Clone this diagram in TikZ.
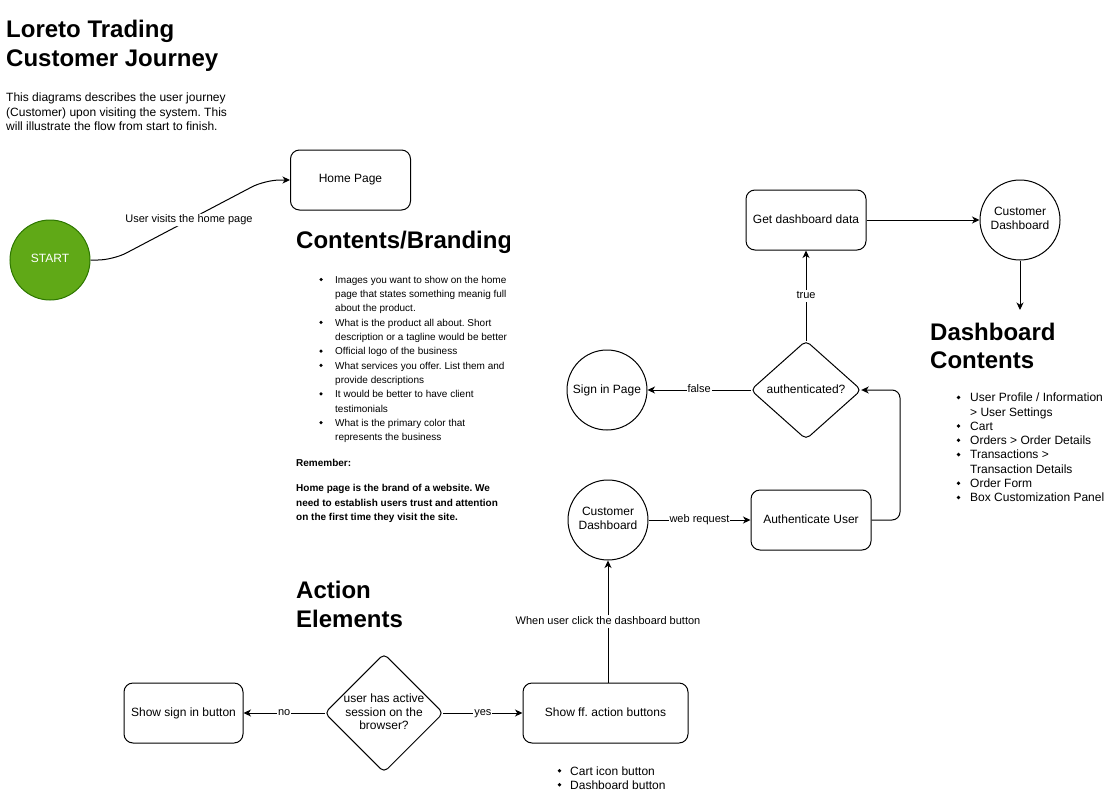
\documentclass[tikz,border=0pt]{standalone}
\usepackage{fontspec}
\setmainfont{Liberation Sans}
\usetikzlibrary{arrows.meta,shapes.geometric,calc}
\frenchspacing
\definecolor{startfill}{HTML}{60A917}
\definecolor{startline}{HTML}{2D7600}
\newcommand{\fsHd}{\fontsize{24}{29}\selectfont\bfseries}
\newcommand{\fsTw}{\fontsize{12}{14}\selectfont}
\newcommand{\fsEl}{\fontsize{11}{13}\selectfont}
\newcommand{\fsTe}{\fontsize{10}{12}\selectfont}
\newcommand{\stTw}{\rule[-2.54pt]{0pt}{10.86pt}}
\newcommand{\stEl}{\rule[-2.33pt]{0pt}{9.96pt}}
\tikzset{
  box/.style={draw, line width=1pt, rounded corners=9pt, minimum width=120pt, minimum height=60pt, font=\fsTw, align=center, inner sep=2pt, execute at begin node=\stTw, execute at end node=\stTw},
  circ/.style={draw, line width=1pt, circle, minimum size=80pt, inner sep=0pt, font=\fsTw, align=center, execute at begin node=\stTw, execute at end node=\stTw},
  dia/.style={rectangle, inner sep=0pt, font=\fsTw, align=center, execute at begin node=\stTw, execute at end node=\stTw},
  diaedge/.style={draw, line width=1pt, rounded corners=5pt},
  lbl/.style={fill=white, inner sep=1pt, font=\fsEl, execute at begin node=\stEl},
  arr/.style={line width=1pt, -{Stealth[length=7.5pt,width=7pt,inset=2.2pt]}},
  txt/.style={anchor=base west, inner sep=0pt},
  bul/.style={fill=black}
}
\begin{document}
\begin{tikzpicture}[x=1pt,y=-1pt]
\useasboundingbox (0,0) rectangle (1116,811);

% title and description
\node[txt, font=\fsHd] (t1) at (6,37) {Loreto Trading};
\node[txt, font=\fsHd] (t2) at (6,66) {Customer Journey};
\node[txt, font=\fsTw] (d1) at (6,101.5) {This diagrams describes the user journey};
\node[txt, font=\fsTw] (d2) at (6,116) {(Customer) upon visiting the system. This};
\node[txt, font=\fsTw] (d3) at (6,130.5) {will illustrate the flow from start to finish.};

% start and home page
\node[circ, fill=startfill, draw=startline, text=white] (start) at (50,260) {START};
\node[box] (home) at (350.5,180) {Home Page};
\draw[arr, rounded corners=15pt] (start.east) -- (113,260) -- node[lbl]{User visits the home page} (265,180) -- (home.west);

% Contents / Branding
\begin{scope}
\clip (290,220) rectangle (509,260);
\node[txt, font=\fsHd] (cbh) at (296,248) {Contents/Branding};
\end{scope}
\foreach \t [count=\i from 0] in {
  {Images you want to show on the home},
  {page that states something meanig full},
  {about the product.},
  {What is the product all about. Short},
  {description or a tagline would be better},
  {Official logo of the business},
  {What services you offer. List them and},
  {provide descriptions},
  {It would be better to have client},
  {testimonials},
  {What is the primary color that},
  {represents the business}}
  { \node[txt, font=\fsTe] (cb\i) at (335,283.3+14.3*\i) {\t}; }
\foreach \i in {0,3,5,6,8,10}
  { \fill[bul] (321,283.3+14.3*\i-3.8) circle (1.75); }
\node[txt, font=\fsTe\bfseries] (rem) at (296,466.7) {Remember:};
\node[txt, font=\fsTe\bfseries] (r1) at (296,491.7) {Home page is the brand of a website. We};
\node[txt, font=\fsTe\bfseries] (r2) at (296,506.2) {need to establish users trust and attention};
\node[txt, font=\fsTe\bfseries] (r3) at (296,520.7) {on the first time they visit the site.};

% Action elements
\node[txt, font=\fsHd] (ae1) at (296,598.5) {Action};
\node[txt, font=\fsHd] (ae2) at (296,627) {Elements};

\node[box, minimum width=119pt] (signbtn) at (183.5,713) {Show sign in button};
\node[dia, minimum width=118pt, minimum height=118pt] (sess) at (384,713) {user has active\\[-0.5pt]session on the\\[-0.5pt]browser?};
\path[diaedge] (sess.north) -- (sess.east) -- (sess.south) -- (sess.west) -- cycle;
\node[box, minimum width=165pt] (show) at (605.5,713) {Show ff. action buttons};
\draw[arr] (sess.west) -- node[lbl]{no} (signbtn.east);
\draw[arr] (sess.east) -- node[lbl]{yes} (show.west);

\node[txt, font=\fsTw] (l1) at (570,775) {Cart icon button};
\node[txt, font=\fsTw] (l2) at (570,789) {Dashboard button};
\fill[bul] (559.5,775-4.3) circle (1.9);
\fill[bul] (559.5,789-4.3) circle (1.9);

% dashboard flow
\node[circ] (cd2) at (608,520) {Customer\\Dashboard};
\node[box] (authuser) at (811,520) {Authenticate User};
\node[dia, minimum width=110pt, minimum height=98pt] (auth) at (806,390) {authenticated?};
\path[diaedge] (auth.north) -- (auth.east) -- (auth.south) -- (auth.west) -- cycle;
\node[circ] (signin) at (607,390) {Sign in Page};
\node[box] (getdata) at (806,220) {Get dashboard data};
\node[circ] (cd1) at (1020,220) {Customer\\Dashboard};
\coordinate (dcend) at (1020,310);

\draw[arr] (show.north -| cd2.south) -- node[lbl]{When user click the dashboard button} (cd2.south);
\draw[arr] (cd2.east) -- node[lbl]{web request} (authuser.west);
\draw[arr, rounded corners=8pt] (authuser.east) -- (900,520) -- (900,390) -- (auth.east);
\draw[arr] (auth.west) -- node[lbl]{false} (signin.east);
\draw[arr] (auth.north) -- node[lbl]{true} (getdata.south);
\draw[arr] (getdata.east) -- (cd1.west);
\draw[arr] (cd1.south) -- (dcend);

% Dashboard contents
\node[txt, font=\fsHd] (dch1) at (930,340) {Dashboard};
\node[txt, font=\fsHd] (dch2) at (930,368.5) {Contents};
\foreach \t [count=\i from 0] in {
  {User Profile / Information},
  {> User Settings},
  {Cart},
  {Orders > Order Details},
  {Transactions >},
  {Transaction Details},
  {Order Form},
  {Box Customization Panel}}
  { \node[txt, font=\fsTw] (dc\i) at (970,401.7+14.3*\i) {\t}; }
\foreach \i in {0,2,3,4,6,7}
  { \fill[bul] (958.5,401.7+14.3*\i-4.3) circle (1.9); }
\end{tikzpicture}
\end{document}
